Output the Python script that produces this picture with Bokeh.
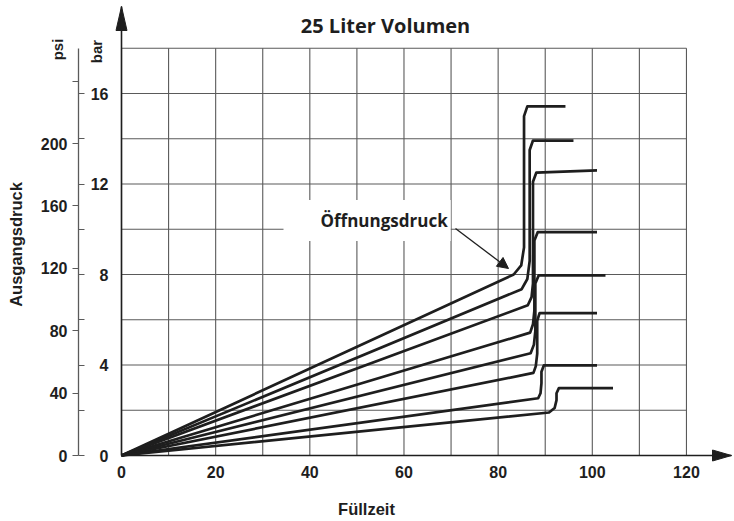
import math
from bokeh.plotting import figure
from bokeh.models import Range1d, LinearAxis, FixedTicker, Label, Arrow, NormalHead
from bokeh.embed import file_html
from bokeh.resources import INLINE

# ---------------- data ----------------
x_ticks = [0, 20, 40, 60, 80, 100, 120]
bar_ticks = [0, 2, 4, 6, 8, 10, 12, 14, 16]
bar_labels = [0, 4, 8, 12, 16]
psi_labels = [0, 40, 80, 120, 160, 200]
psi_extra_ticks = [240]
grid_x = [0, 10, 20, 30, 40, 50, 60, 70, 80, 90, 100, 110, 120]
grid_y = [0, 2, 4, 6, 8, 10, 12, 14, 16, 18]
PSI_PER_BAR = 14.5038

curve1_x = [0, 83.3, 84.9, 85.5, 85.5, 86.2, 94.3]
curve1_y = [0, 8.0, 8.4, 9.2, 15.0, 15.43, 15.43]
curve2_x = [0, 85.0, 86.2, 86.7, 86.7, 87.4, 96.0]
curve2_y = [0, 7.35, 7.8, 8.6, 13.5, 13.92, 13.92]
curve3_x = [0, 86.3, 87.1, 87.4, 87.4, 88.1, 101.0]
curve3_y = [0, 6.64, 7.0, 7.6, 12.1, 12.5, 12.6]
curve4_x = [0, 86.8, 87.4, 87.7, 87.7, 88.4, 101.0]
curve4_y = [0, 5.43, 5.8, 6.4, 9.5, 9.87, 9.87]
curve5_x = [0, 86.9, 87.6, 87.9, 87.9, 88.6, 102.8]
curve5_y = [0, 4.52, 4.9, 5.5, 7.6, 7.96, 7.96]
curve6_x = [0, 87.5, 88.0, 88.3, 88.3, 88.8, 101.0]
curve6_y = [0, 3.65, 3.95, 4.5, 5.95, 6.29, 6.29]
curve7_x = [0, 88.5, 89.0, 89.2, 89.2, 89.7, 101.0]
curve7_y = [0, 2.53, 2.75, 3.2, 3.7, 3.98, 3.98]
curve8_x = [0, 90.8, 92.0, 92.4, 92.4, 92.9, 104.4]
curve8_y = [0, 1.9, 2.1, 2.45, 2.75, 2.98, 2.98]
curves = [(curve1_x, curve1_y), (curve2_x, curve2_y), (curve3_x, curve3_y),
          (curve4_x, curve4_y), (curve5_x, curve5_y), (curve6_x, curve6_y),
          (curve7_x, curve7_y), (curve8_x, curve8_y)]

# ---------------- layout ----------------
W, H = 734, 521
PX_PER_X = 4.708     # pixels per second
PX_PER_BAR = 22.625  # pixels per bar
X0_PX, Y0_PX = 121, 455   # canvas position of the origin


def dx(px):
    return (px - X0_PX) / PX_PER_X


def dy(py):
    return (Y0_PX - py) / PX_PER_BAR


x_start, x_end = dx(0), dx(W)
y_start, y_end = dy(H), dy(0)
x_tip, y_tip = dx(731), dy(6)

p = figure(width=W, height=H, x_range=Range1d(x_start, x_end),
           y_range=Range1d(y_start, y_end), output_backend="svg",
           toolbar_location=None, x_axis_type=None, y_axis_type=None,
           min_border=0, outline_line_color=None)
p.title.visible = False
p.background_fill_color = "white"

INK = "#1e1e1e"
GRID = "#5a5a5a"
NUMFONT = "Liberation Sans"

# grid
p.segment(x0=grid_x, y0=[0] * len(grid_x), x1=grid_x, y1=[grid_y[-1]] * len(grid_x),
          line_color=GRID, line_width=1.1)
p.segment(x0=[0] * len(grid_y), y0=grid_y, x1=[grid_x[-1]] * len(grid_y), y1=grid_y,
          line_color=GRID, line_width=1.1)

# curves
for cx, cy in curves:
    p.line(cx, cy, line_color=INK, line_width=2.7, line_join="round")

# x axis
xaxis = LinearAxis(fixed_location=0, bounds=(0, x_tip), ticker=FixedTicker(ticks=x_ticks),
                   major_tick_line_color=None, minor_tick_line_color=None,
                   major_tick_out=0, major_tick_in=0, major_label_standoff=10,
                   axis_line_color=INK, axis_line_width=1.6,
                   major_label_text_font=NUMFONT, major_label_text_font_style="bold",
                   major_label_text_font_size="16px", major_label_text_color=INK)
p.add_layout(xaxis, "below")

# main y axis (line only)
yaxis = LinearAxis(fixed_location=0, bounds=(0, y_tip), ticker=FixedTicker(ticks=[]),
                   major_tick_line_color=None, minor_tick_line_color=None,
                   axis_line_color=INK, axis_line_width=1.6)
p.add_layout(yaxis, "left")

# psi axis
p.extra_y_ranges = {"psi": Range1d(y_start * PSI_PER_BAR, y_end * PSI_PER_BAR)}
psi_axis = LinearAxis(y_range_name="psi", fixed_location=dx(78),
                      bounds=(0, grid_y[-1] * PSI_PER_BAR),
                      ticker=FixedTicker(ticks=psi_labels, minor_ticks=psi_extra_ticks),
                      major_tick_out=6, major_tick_in=0, major_tick_line_color=GRID,
                      major_tick_line_width=1.2,
                      minor_tick_out=6, minor_tick_in=0, minor_tick_line_color=GRID,
                      minor_tick_line_width=1.2,
                      axis_line_color=GRID, axis_line_width=1.3, major_label_standoff=5,
                      major_label_text_font=NUMFONT, major_label_text_font_style="bold",
                      major_label_text_font_size="16px", major_label_text_color=INK)
p.add_layout(psi_axis, "left")

# bar ticks (pointing right from the same line)
bar_tick_axis = LinearAxis(fixed_location=dx(78), bounds=(0, grid_y[-1]),
                           ticker=FixedTicker(ticks=[], minor_ticks=bar_ticks),
                           major_tick_line_color=None,
                           minor_tick_in=6, minor_tick_out=0, minor_tick_line_color=GRID,
                           minor_tick_line_width=1.2, axis_line_color=None)
p.add_layout(bar_tick_axis, "left")

# bar labels
bar_label_axis = LinearAxis(fixed_location=dx(108), ticker=FixedTicker(ticks=bar_labels),
                            major_tick_in=0, major_tick_out=0, major_tick_line_color=None,
                            minor_tick_line_color=None, axis_line_color=None,
                            major_label_standoff=0,
                            major_label_text_font=NUMFONT, major_label_text_font_style="bold",
                            major_label_text_font_size="16px", major_label_text_color=INK)
p.add_layout(bar_label_axis, "left")

# arrow heads of the axes
hw = 5.5
p.patches(xs=[[-hw / PX_PER_X, 0, hw / PX_PER_X],
              [x_tip - 19 / PX_PER_X, x_tip, x_tip - 19 / PX_PER_X]],
          ys=[[y_tip - 24 / PX_PER_BAR, y_tip, y_tip - 24 / PX_PER_BAR],
              [-hw / PX_PER_BAR, 0, hw / PX_PER_BAR]],
          fill_color=INK, line_color=INK, line_width=1)

# texts
p.add_layout(Label(x=dx(385), y=dy(25), text="25 Liter Volumen", text_align="center",
                   text_baseline="middle", text_font="Open Sans", text_font_style="bold",
                   text_font_size="20px", text_color=INK))
p.add_layout(Label(x=dx(15), y=dy(244), text="Ausgangsdruck", angle=math.pi / 2,
                   text_align="center", text_baseline="middle", text_font=NUMFONT,
                   text_font_style="bold", text_font_size="16.5px", text_color=INK))
p.add_layout(Label(x=dx(366), y=dy(508), text="Füllzeit", text_align="center",
                   text_baseline="middle", text_font=NUMFONT, text_font_style="bold",
                   text_font_size="16.5px", text_color=INK))
p.add_layout(Label(x=dx(57), y=dy(49), text="psi", angle=math.pi / 2,
                   text_align="center", text_baseline="middle", text_font=NUMFONT,
                   text_font_style="bold", text_font_size="15px", text_color=INK))
p.add_layout(Label(x=dx(96), y=dy(51), text="bar", angle=math.pi / 2,
                   text_align="center", text_baseline="middle", text_font=NUMFONT,
                   text_font_style="bold", text_font_size="15px", text_color=INK))
p.add_layout(Label(x=dx(283), y=dy(220), text="Öffnungsdruck", text_align="left",
                   text_baseline="middle", text_font="Open Sans", text_font_style="bold",
                   text_font_size="17px", text_color=INK, background_fill_color="white",
                   padding=dict(left=37, right=3, top=9, bottom=9)))
p.add_layout(Arrow(x_start=dx(455), y_start=dy(228), x_end=dx(508), y_end=dy(268),
                   line_color=INK, line_width=1.3,
                   end=NormalHead(size=11, fill_color=INK, line_color=INK)))

open("out.html", "w").write(file_html(p, INLINE))
